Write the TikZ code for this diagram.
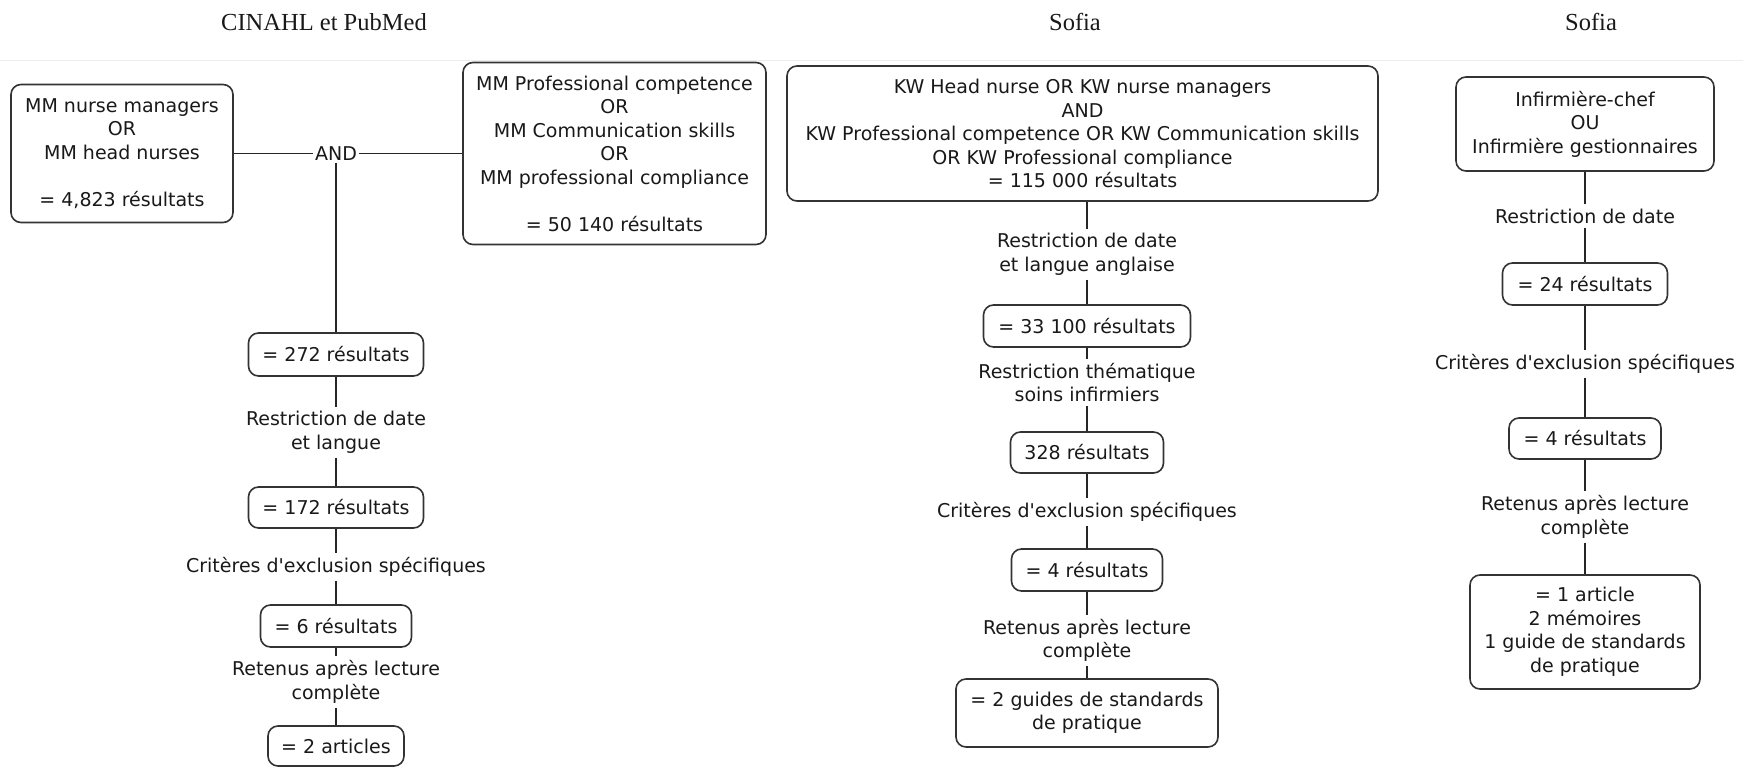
\documentclass[tikz,border=0pt]{standalone}
\usepackage{fontspec}
\setmainfont{DejaVu Sans}[Ligatures=TeXOff]
\newfontfamily\ttlfont{Liberation Serif}
\newcommand\myfs{\fontsize{19}{23.5}\selectfont}
\tikzset{
  box/.style={draw=black!80, line width=1.6pt, rounded corners=10pt, align=center, inner sep=0pt, font=\myfs, text=black!90},
  lbl/.style={align=center, inner xsep=2pt, inner ysep=4pt, font=\myfs, text=black!90},
  conn/.style={draw=black!85, line width=1.6pt},
  ttl/.style={font=\ttlfont\fontsize{24.5}{28}\selectfont, text=black!90},
  sep/.style={draw=black!7, line width=0.8pt}
}
\begin{document}
\begin{tikzpicture}[x=1pt,y=-1pt]
\useasboundingbox (0,0) rectangle (1743,767);
\fill[white] (0,0) rectangle (1743,767);

% titles
\node[ttl] (t1) at (324,22) {CINAHL et PubMed};
\node[ttl] (t2) at (1075,22) {Sofia};
\node[ttl] (t3) at (1591,22) {Sofia};
\coordinate (sl) at (0,60);
\coordinate (sr) at (1743,60);
\draw[sep] (sl) -- (sr);

% column 1
\node[box, minimum width=222, minimum height=138] (A) at (122,153.5)
  {MM nurse managers\\OR\\MM head nurses\\[23.5pt]= 4,823 résultats};
\node[box, minimum width=303, minimum height=182] (B) at (614.5,153.5)
  {MM Professional competence\\OR\\MM Communication skills\\OR\\MM professional compliance\\[23.5pt]= 50 140 résultats};
\node[lbl, inner sep=2pt] (and) at (336,153.5) {AND};
\node[box, minimum width=175, minimum height=43] (b272) at (336,354.5) {= 272 résultats};
\node[lbl] (l1) at (336,432.5) {Restriction de date\\et langue};
\node[box, minimum width=175, minimum height=41] (b172) at (336,507.5) {= 172 résultats};
\node[lbl] (l2) at (336,567) {Critères d'exclusion spécifiques};
\node[box, minimum width=151, minimum height=42] (b6) at (336,626) {= 6 résultats};
\node[lbl] (l3) at (336,682) {Retenus après lecture\\complète};
\node[box, minimum width=136, minimum height=40] (b2a) at (336,746) {= 2 articles};

\draw[conn] (A) -- (and);
\draw[conn] (and) -- (B);
\draw[conn] (and) -- (b272) -- (l1) -- (b172) -- (l2) -- (b6) -- (l3) -- (b2a);

% column 2
\node[box, minimum width=591, minimum height=135] (C) at (1082.5,133.5)
  {KW Head nurse OR KW nurse managers\\AND\\KW Professional competence OR KW Communication skills\\OR KW Professional compliance\\= 115 000 résultats};
\node[lbl] (m1) at (1087,254.5) {Restriction de date\\et langue anglaise};
\node[box, minimum width=207, minimum height=42] (b33) at (1087,326) {= 33 100 résultats};
\node[lbl] (m2) at (1087,382.5) {Restriction thématique\\soins infirmiers};
\node[box, minimum width=153, minimum height=41] (b328) at (1087,452.5) {328 résultats};
\node[lbl] (m3) at (1087,512) {Critères d'exclusion spécifiques};
\node[box, minimum width=151, minimum height=42] (b4) at (1087,570) {= 4 résultats};
\node[lbl] (m4) at (1087,640.5) {Retenus après lecture\\complète};
\node[box, minimum width=262, minimum height=68] (bg) at (1087,713) {= 2 guides de standards\\de pratique};

\draw[conn] (C.south -| m1) -- (m1) -- (b33) -- (m2) -- (b328) -- (m3) -- (b4) -- (m4) -- (bg);

% column 3
\node[box, minimum width=258, minimum height=94] (D) at (1585,124)
  {Infirmière-chef\\OU\\Infirmière gestionnaires};
\node[lbl] (n1) at (1585,216) {Restriction de date};
\node[box, minimum width=165, minimum height=42] (b24) at (1585,284) {= 24 résultats};
\node[lbl] (n2) at (1585,364) {Critères d'exclusion spécifiques};
\node[box, minimum width=152, minimum height=41] (b4b) at (1585,438.5) {= 4 résultats};
\node[lbl] (n3) at (1585,517) {Retenus après lecture\\complète};
\node[box, minimum width=230, minimum height=114] (bf) at (1585,632)
  {= 1 article\\2 mémoires\\1 guide de standards\\de pratique};

\draw[conn] (D) -- (n1) -- (b24) -- (n2) -- (b4b) -- (n3) -- (bf);
\end{tikzpicture}
\end{document}
